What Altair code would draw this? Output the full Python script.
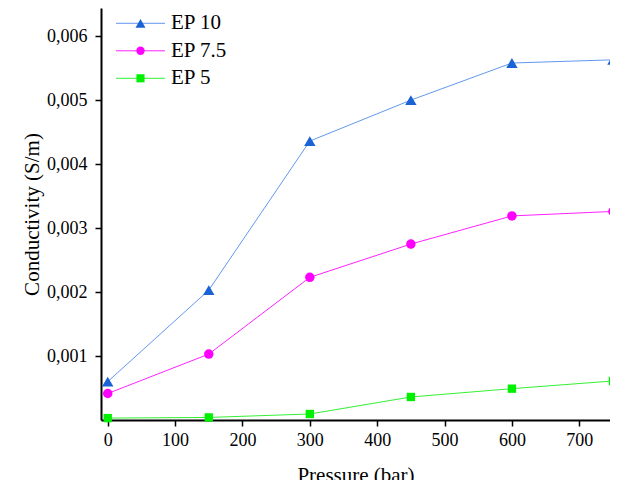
import altair as alt
import pandas as pd

pressure = [0, 150, 300, 450, 600, 750]
ep10 = [0.00060, 0.00203, 0.00436, 0.00500, 0.00558, 0.00563]
ep75 = [0.000414, 0.00103, 0.00223, 0.00275, 0.00319, 0.00326]
ep5 = [0.00003, 0.00004, 0.000094, 0.00036, 0.00049, 0.00061]
series_names = ["EP 10", "EP 7.5", "EP 5"]
series_values = [ep10, ep75, ep5]

line_colors = ["#6398ee", "#ff22ff", "#33f033"]
marker_colors = ["#1b62d6", "#ff00ff", "#00f000"]
marker_shapes = ["triangle-up", "circle", "square"]
marker_sizes = [130, 90, 70]
legend_marker_sizes = [100, 70, 66]

x_ticks = [0, 100, 200, 300, 400, 500, 600, 700]
y_ticks = [0.001, 0.002, 0.003, 0.004, 0.005, 0.006]

rows = []
for name, vals in zip(series_names, series_values):
    for p, v in zip(pressure, vals):
        rows.append({"series": name, "pressure": p, "cond": v})
df = pd.DataFrame(rows)
legend_df = pd.DataFrame({"series": series_names})

FONT = "Liberation Serif"

axis_common = dict(
    grid=False,
    tickSize=6,
    tickWidth=1.5,
    domainWidth=2,
    domainColor="black",
    tickColor="black",
    labelFont=FONT,
    labelFontSize=18,
    labelColor="black",
    labelFlush=False,
    titleFont=FONT,
    titleFontSize=21,
    titleFontWeight="normal",
    titleColor="black",
)

x_scale = alt.Scale(domain=[-10, 745.6], nice=False, zero=False)
y_scale = alt.Scale(domain=[0, 0.00644], nice=False)

x_enc = alt.X(
    "pressure:Q",
    scale=x_scale,
    axis=alt.Axis(title="Pressure (bar)", values=x_ticks, labelPadding=5,
                  titlePadding=15, **axis_common),
)
y_enc = alt.Y(
    "cond:Q",
    scale=y_scale,
    axis=alt.Axis(
        title="Conductivity (S/m)",
        values=y_ticks,
        labelExpr="replace(format(datum.value, '.3f'), '.', ',')",
        labelPadding=8,
        titlePadding=4,
        **axis_common,
    ),
)

base = alt.Chart(df)

lines = base.mark_line(strokeWidth=1).encode(
    x=x_enc,
    y=y_enc,
    color=alt.Color(
        "series:N",
        scale=alt.Scale(domain=series_names, range=line_colors),
        legend=None,
    ),
    detail="series:N",
)

point_layers = []
for name, col, shp, sz in zip(series_names, marker_colors, marker_shapes, marker_sizes):
    point_layers.append(
        base.transform_filter(alt.datum.series == name)
        .mark_point(shape=shp, filled=True, color=col, size=sz, opacity=1)
        .encode(
            x=alt.X("pressure:Q", scale=x_scale),
            y=alt.Y("cond:Q", scale=y_scale, axis=None),
        )
    )

# legend drawn inside the plot, rows placed by a point scale on the series names
leg_y = alt.Y(
    "series:N",
    scale=alt.Scale(type="point", domain=series_names, range=[15.3, 70.3], padding=0),
    axis=None,
)
leg = alt.Chart(legend_df)

leg_lines = leg.mark_rule(strokeWidth=1).encode(
    x=alt.value(15),
    x2=alt.value(64),
    y=leg_y,
    color=alt.Color("series:N", legend=None),
)
leg_markers = []
for name, col, shp, sz in zip(series_names, marker_colors, marker_shapes, legend_marker_sizes):
    leg_markers.append(
        leg.transform_filter(alt.datum.series == name)
        .mark_point(shape=shp, filled=True, color=col, size=sz, opacity=1)
        .encode(x=alt.value(39.5), y=leg_y)
    )
leg_text = leg.mark_text(
    align="left", baseline="middle", font=FONT, fontSize=21, color="black"
).encode(x=alt.value(70), y=leg_y, text="series:N")

chart = (
    alt.layer(lines, *point_layers, leg_lines, *leg_markers, leg_text)
    .resolve_scale(y="independent")
    .properties(
        width=509,
        height=412,
        autosize=alt.AutoSizeParams(type="none"),
        padding={"left": 93, "top": 0, "right": 0, "bottom": 60},
    )
    .configure(font=FONT)
    .configure_view(stroke=None)
    .configure_axis(labelFont=FONT, titleFont=FONT)
)

chart.save("out.html", embed_options={"renderer": "svg", "actions": False})
